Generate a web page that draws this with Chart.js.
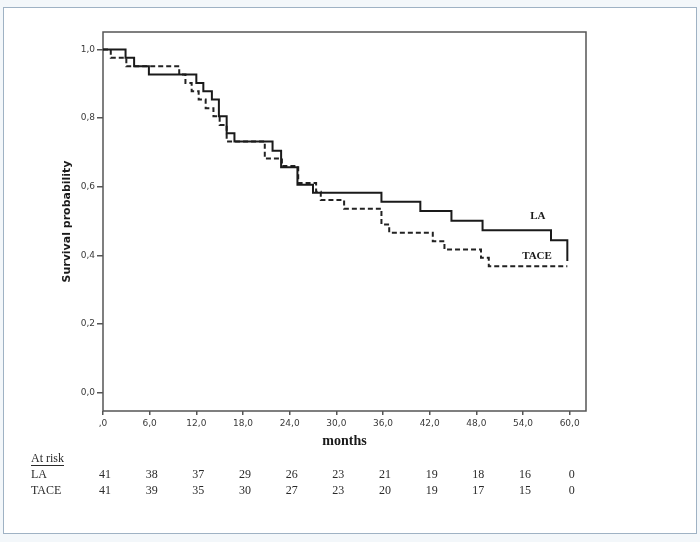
<!DOCTYPE html>
<html>
<head>
<meta charset="utf-8">
<script src="https://cdn.jsdelivr.net/npm/chart.js@4.4.0/dist/chart.umd.min.js"></script>
<style>
  html, body { margin: 0; padding: 0; background: #f3f7fa; }
  canvas { display: block; }
</style>
</head>
<body>
<canvas id="kmChart" width="700" height="542"></canvas>
<script>
// Kaplan-Meier steps (months, survival probability)
const laTimes = [0, 2.9, 4.0, 5.9, 12.0, 12.9, 14.0, 14.9, 15.9, 16.9, 21.8, 22.9, 25.0, 27.0, 35.8, 40.8, 44.8, 48.8, 57.6, 59.7];
const laSurvival = [1.0, 0.976, 0.951, 0.927, 0.902, 0.878, 0.854, 0.805, 0.756, 0.732, 0.705, 0.657, 0.606, 0.582, 0.556, 0.529, 0.501, 0.473, 0.444, 0.383];

const taceTimes = [0, 1.0, 3.0, 9.8, 10.6, 11.4, 12.3, 13.2, 14.2, 15.0, 15.9, 20.8, 23.0, 25.1, 27.4, 28.0, 31.0, 35.8, 36.8, 42.4, 43.9, 48.6, 49.6, 59.7];
const taceSurvival = [1.0, 0.976, 0.951, 0.927, 0.902, 0.878, 0.854, 0.829, 0.805, 0.780, 0.732, 0.682, 0.660, 0.611, 0.585, 0.561, 0.536, 0.490, 0.466, 0.441, 0.417, 0.393, 0.368, 0.368];

const monthTicks = [0, 6, 12, 18, 24, 30, 36, 42, 48, 54, 60];
const monthTickLabels = [',0', '6,0', '12,0', '18,0', '24,0', '30,0', '36,0', '42,0', '48,0', '54,0', '60,0'];
const survivalTicks = [0, 0.2, 0.4, 0.6, 0.8, 1.0];
const survivalTickLabels = ['0,0', '0,2', '0,4', '0,6', '0,8', '1,0'];

// numbers at risk at each month tick
const atRiskLA = [41, 38, 37, 29, 26, 23, 21, 19, 18, 16, 0];
const atRiskTACE = [41, 39, 35, 30, 27, 23, 20, 19, 17, 15, 0];

const toPoints = (xs, ys) => xs.map((x, i) => ({ x: x, y: ys[i] }));

const pageFrame = {
    id: 'pageFrame',
    beforeDraw(chart) {
        const ctx = chart.ctx;
        ctx.save();
        ctx.fillStyle = '#f3f7fa';
        ctx.fillRect(0, 0, chart.width, chart.height);
        ctx.fillStyle = '#ffffff';
        ctx.fillRect(3, 7, chart.width - 6, chart.height - 15);
        ctx.strokeStyle = '#9fb2c4';
        ctx.lineWidth = 1;
        ctx.strokeRect(3.5, 7.5, chart.width - 7, chart.height - 16);
        ctx.restore();
    },
    beforeDatasetsDraw(chart) {
        const a = chart.chartArea;
        const ctx = chart.ctx;
        ctx.save();
        ctx.strokeStyle = '#555555';
        ctx.lineWidth = 1.5;
        ctx.strokeRect(a.left, a.top, a.right - a.left, a.bottom - a.top);
        ctx.restore();
    }
};

const curveLabels = {
    id: 'curveLabels',
    afterDatasetsDraw(chart) {
        const ctx = chart.ctx;
        const xs = chart.scales.x, ys = chart.scales.y;
        ctx.save();
        ctx.fillStyle = '#1a1a1a';
        ctx.font = 'bold 11px "Liberation Serif"';
        ctx.textAlign = 'center';
        ctx.textBaseline = 'middle';
        ctx.fillText('LA', xs.getPixelForValue(55.9), ys.getPixelForValue(0.514));
        ctx.fillText('TACE', xs.getPixelForValue(55.8), ys.getPixelForValue(0.396));
        ctx.restore();
    }
};

const riskTable = {
    id: 'riskTable',
    afterDraw(chart) {
        const ctx = chart.ctx;
        const xs = chart.scales.x;
        ctx.save();
        ctx.fillStyle = '#2a2a2a';
        ctx.font = '12px "Liberation Serif"';
        ctx.textBaseline = 'middle';
        ctx.textAlign = 'left';
        ctx.fillText('At risk', 31, 459);
        const w = ctx.measureText('At risk').width;
        ctx.fillRect(31, 465, w, 1);
        ctx.fillText('LA', 31, 475);
        ctx.fillText('TACE', 31, 491);
        ctx.textAlign = 'center';
        monthTicks.forEach((m, i) => {
            const px = xs.getPixelForValue(m) + 2;
            ctx.fillText(String(atRiskLA[i]), px, 475);
            ctx.fillText(String(atRiskTACE[i]), px, 491);
        });
        ctx.restore();
    }
};

const tickFont = { family: '"DejaVu Sans"', size: 9 };

new Chart(document.getElementById('kmChart').getContext('2d'), {
    type: 'line',
    data: {
        datasets: [
            {
                label: 'LA',
                data: toPoints(laTimes, laSurvival),
                stepped: 'before',
                borderColor: '#1a1a1a',
                borderWidth: 2,
                pointRadius: 0,
                fill: false
            },
            {
                label: 'TACE',
                data: toPoints(taceTimes, taceSurvival),
                stepped: 'before',
                borderColor: '#222222',
                borderWidth: 2,
                borderDash: [5, 3],
                pointRadius: 0,
                fill: false
            }
        ]
    },
    options: {
        responsive: false,
        animation: false,
        layout: { padding: { left: 0, top: 32, right: 114, bottom: 0 } },
        plugins: { legend: { display: false }, tooltip: { enabled: false } },
        scales: {
            x: {
                type: 'linear',
                min: 0,
                max: 62.1,
                afterFit(s) { s.height = 131; },
                afterBuildTicks(s) { s.ticks = monthTicks.map(v => ({ value: v })); },
                ticks: {
                    autoSkip: false,
                    maxRotation: 0,
                    padding: 3,
                    color: '#3a3a3a',
                    font: tickFont,
                    callback: (v) => monthTickLabels[monthTicks.indexOf(v)]
                },
                grid: { drawOnChartArea: false, tickLength: 4, color: '#555555', lineWidth: 1.5 },
                border: { display: false },
                title: {
                    display: true,
                    text: 'months',
                    color: '#1a1a1a',
                    font: { family: '"Liberation Serif"', size: 14, weight: 'bold' },
                    padding: { top: 0, bottom: 92 }
                }
            },
            y: {
                min: -0.054,
                max: 1.051,
                afterFit(s) { s.width = 103; },
                afterBuildTicks(s) { s.ticks = survivalTicks.map(v => ({ value: v })); },
                ticks: {
                    padding: 2,
                    color: '#3a3a3a',
                    font: tickFont,
                    callback: (v) => survivalTickLabels[survivalTicks.indexOf(v)]
                },
                grid: { drawOnChartArea: false, tickLength: 6, color: '#555555', lineWidth: 1.5 },
                border: { display: false },
                title: {
                    display: true,
                    text: 'Survival probability',
                    color: '#1a1a1a',
                    font: { family: '"DejaVu Sans"', size: 11, weight: 'bold' },
                    padding: { top: 61, bottom: 0 }
                }
            }
        }
    },
    plugins: [pageFrame, curveLabels, riskTable]
});
</script>
</body>
</html>
